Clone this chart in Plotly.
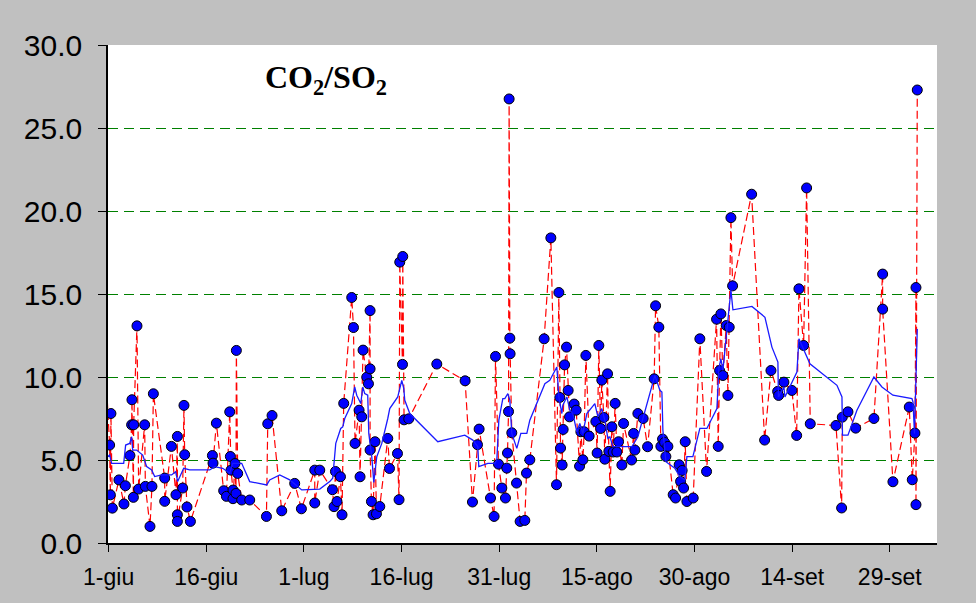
import plotly.graph_objects as go

# Days counted from 1 June (x axis), CO2/SO2 ratio values (y axis)
obs_day = [-0.6, 0.15, 0.26, 0.35, 0.57, 1.58, 2.35, 2.57, 3.27, 3.53, 3.58, 3.80, 3.84, 4.35, 4.61,
           5.53, 5.64, 6.35, 6.65, 6.87, 8.61, 8.61, 9.64, 10.34, 10.56, 10.56, 10.56, 11.37, 11.57,
           11.68, 12.03, 12.56, 15.94, 16.03, 16.55, 17.67, 18.09, 18.60, 18.70, 18.80, 19.10, 19.10,
           19.41, 19.56, 19.62, 19.82, 20.44, 21.67, 24.24, 24.44, 25.10, 26.59, 28.58, 29.61, 31.66,
           31.66, 32.43, 34.38, 34.62, 34.84, 35.08, 35.61, 35.85, 36.11, 37.34, 37.61, 37.85, 38.47,
           38.62, 38.88, 39.08, 39.65, 39.91, 40.16, 40.16, 40.16, 40.37, 40.62, 40.92, 41.14, 41.65,
           42.88, 43.14, 44.37, 44.61, 44.72, 45.14, 45.18, 45.38, 46.10, 50.41, 54.76, 55.89, 56.66,
           56.91, 58.66, 59.21, 59.43, 59.89, 60.40, 60.96, 61.16, 61.27, 61.43, 61.52, 61.63, 61.67,
           61.93, 62.66, 63.21, 63.93, 64.19, 64.70, 66.90, 67.93, 68.80, 69.16, 69.31, 69.42, 69.66,
           69.82, 70.04, 70.34, 70.59, 70.80, 71.51, 71.82, 72.34, 72.54, 72.85, 73.05, 73.31, 73.81,
           74.84, 75.04, 75.30, 75.57, 75.76, 76.07, 76.22, 76.64, 76.84, 77.04, 77.30, 77.50, 77.81,
           78.07, 78.33, 78.84, 79.10, 80.33, 80.64, 80.84, 81.30, 82.11, 82.79, 83.80, 84.02, 84.52,
           84.83, 85.09, 85.40, 85.60, 85.91, 86.72, 87.09, 87.64, 87.86, 88.10, 88.32, 88.57, 88.83,
           89.80, 90.82, 91.85, 93.39, 93.64, 93.85, 94.05, 94.36, 94.87, 95.13, 95.33, 95.59, 95.85,
           98.77, 100.77, 101.74, 102.77, 102.92, 103.73, 104.96, 105.69, 106.04, 106.76, 107.22,
           107.78, 111.73, 112.60, 112.70, 113.57, 114.76, 117.56, 118.90, 118.90, 120.48, 122.99,
           123.45, 123.86, 124.02, 124.02, 124.22]
obs_ratio = [11.5, 5.9, 2.9, 7.8, 2.1, 3.8, 2.35, 3.45, 5.27, 7.12, 8.63, 2.75, 7.12, 13.08, 3.25,
             7.12, 3.41, 1.0, 3.41, 8.99, 3.91, 2.51, 5.82, 2.91, 6.42, 1.70, 1.30, 3.31, 8.29,
             5.32, 2.17, 1.30, 5.27, 4.81, 7.22, 3.15, 2.81, 7.9, 5.21, 4.39, 3.19, 2.67,
             4.79, 2.99, 11.6, 4.19, 2.59, 2.59, 1.60, 7.18, 7.68, 1.94, 3.59, 2.06, 4.39,
             2.41, 4.39, 3.21, 2.19, 4.31, 2.5, 3.99, 1.70, 8.41, 14.79, 12.98, 6.0, 8.0,
             3.99, 7.6, 11.62, 9.99, 9.59, 14.0, 10.49, 5.6, 2.5, 1.7, 6.1, 1.76, 2.2,
             6.3, 4.49, 5.39, 2.61, 16.92, 10.76, 17.26, 7.42, 7.48, 10.78, 9.77, 2.47, 5.92,
             6.86, 2.71, 1.6, 11.24, 4.75, 3.31, 2.71, 4.51, 5.42, 7.92, 26.75, 12.34, 11.4,
             6.64, 3.61, 1.3, 1.36, 4.21, 5.01, 12.3, 18.38, 3.51, 15.09, 8.77, 5.72, 4.7,
             6.84, 10.73, 11.8, 9.19, 7.6, 8.37, 8.0, 4.63, 6.7, 5.01, 6.7, 11.3, 6.44,
             7.32, 5.42, 11.9, 6.9, 9.81, 7.56, 5.05, 10.19, 5.52, 3.11, 7.0, 5.48, 8.41,
             5.48, 6.1, 4.7, 7.2, 5.0, 6.6, 5.6, 7.8, 7.5, 5.8, 9.89, 14.29, 13.0,
             5.82, 6.26, 6.06, 5.21, 5.82, 2.91, 2.71, 4.71, 3.71, 4.37, 3.31, 6.1, 2.5,
             2.71, 12.3, 4.31, 13.48, 5.82, 10.39, 13.8, 10.09, 13.1, 8.89, 13.0, 19.6, 15.49,
             21.01, 6.2, 10.39, 9.13, 8.89, 9.69, 9.19, 6.48, 15.31, 11.9, 21.39,
             7.18, 7.08, 2.11, 7.58, 7.9, 6.92, 7.5, 16.2, 14.09, 3.69, 8.19,
             3.81, 6.62, 15.39, 2.31, 27.29]

avg_day = [-0.61, 0.15, 0.46, 2.31, 2.61, 3.23, 3.53, 3.69, 4.30, 5.23, 5.84, 6.61, 7.07, 8.15,
           9.67, 10.30, 10.60, 11.53, 12.45, 15.52, 16.29, 17.52, 18.60, 19.06, 20.44, 21.67, 24.28,
           24.74, 26.28, 27.82, 29.66, 32.43, 33.96, 34.42, 34.89, 35.65, 35.96, 36.27, 37.34, 37.80,
           38.11, 38.73, 39.04, 39.34, 39.80, 39.96, 40.42, 40.73, 41.19, 41.96, 42.88, 43.18, 44.41,
           45.03, 45.34, 45.49, 46.26, 50.56, 54.71, 55.94, 56.71, 56.86, 58.25, 59.32, 59.63, 59.94,
           60.55, 60.86, 61.32, 61.63, 61.93, 62.70, 63.32, 64.24, 64.70, 67.01, 67.77, 68.85, 69.16,
           69.62, 69.77, 70.39, 70.85, 71.31, 71.92, 72.38, 72.84, 73.46, 74.69, 75.15, 75.76, 76.22,
           76.69, 77.00, 77.46, 80.38, 81.30, 83.60, 83.91, 84.68, 84.99, 85.14, 85.60, 86.98, 87.75,
           88.52, 88.83, 89.75, 90.82, 91.90, 93.44, 93.74, 94.05, 94.36, 94.97, 95.59, 95.90, 98.82,
           100.82, 101.89, 102.81, 102.89, 103.73, 103.89, 105.73, 106.04, 107.73, 111.88, 112.65,
           112.73, 113.57, 114.95, 117.56, 118.79, 120.48, 123.40, 123.56, 123.79, 124.22]
avg_ratio = [5.06, 5.3, 4.8, 4.8, 5.9, 6.0, 6.4, 5.6, 5.6, 5.3, 4.6, 4.4, 4.0, 4.1,
             4.1, 4.3, 3.7, 4.5, 4.4, 4.4, 4.6, 4.5, 4.2, 4.8, 4.8, 3.7, 3.5,
             3.8, 4.1, 3.8, 3.2, 3.25, 3.7, 3.9, 6.0, 6.9, 7.0, 7.5, 8.4, 9.4,
             8.9, 8.4, 9.4, 9.0, 8.9, 6.6, 5.2, 3.65, 5.2, 6.0, 7.5, 8.1, 8.8,
             9.8, 9.3, 8.6, 7.8, 6.1, 6.5, 6.2, 5.8, 4.6, 4.8, 4.8, 5.0, 7.4,
             8.7, 8.7, 9.0, 8.6, 6.6, 5.7, 6.6, 6.6, 7.4, 9.6, 9.8, 10.6, 8.8,
             7.8, 8.3, 8.8, 8.0, 7.8, 6.7, 7.2, 6.6, 7.8, 8.4, 7.6, 8.1, 7.4,
             6.3, 6.4, 5.8, 5.8, 6.4, 9.8, 10.1, 9.2, 9.1, 6.8, 4.9, 4.5, 4.0,
             3.8, 5.2, 5.2, 6.9, 6.9, 8.1, 10.5, 11.1, 10.4, 12.7, 15.25, 14.05, 14.25,
             13.6, 11.8, 10.9, 8.8, 9.4, 8.8, 10.3, 12.3, 10.8, 9.5, 8.8,
             6.5, 6.5, 8.0, 10.0, 9.4, 8.9, 8.7, 8.5, 6.6, 12.9]

tick_days = [0, 15, 30, 45, 60, 75, 90, 105, 120]
tick_labels = ["1-giu", "16-giu", "1-lug", "16-lug", "31-lug", "15-ago", "30-ago", "14-set", "29-set"]
y_ticks = [0, 5, 10, 15, 20, 25, 30]

fig = go.Figure()
# dashed red connecting line (starts just before 1-giu, clipped at the axis)
fig.add_trace(go.Scatter(
    x=obs_day, y=obs_ratio, mode="lines",
    line=dict(color="#FF0000", width=1.2, dash="8px,4px"),
    showlegend=False, hoverinfo="skip",
))
# sample markers (the point before the axis start is not visible)
fig.add_trace(go.Scatter(
    x=obs_day[1:], y=obs_ratio[1:], mode="markers",
    marker=dict(size=10, color="#0000FF", line=dict(color="#000000", width=1)),
    cliponaxis=True, showlegend=False, hoverinfo="x+y",
))
# running average (solid blue)
fig.add_trace(go.Scatter(
    x=avg_day, y=avg_ratio, mode="lines",
    line=dict(color="#1A1AFF", width=1.3),
    showlegend=False, hoverinfo="x+y",
))

fig.add_annotation(
    text="<b>CO<sub>2</sub>/SO<sub>2</sub></b>",
    xref="paper", yref="paper", x=0.263, y=0.93,
    xanchor="center", yanchor="middle", showarrow=False,
    font=dict(family="Liberation Serif, Times New Roman, serif", size=32, color="#000000"),
)

fig.update_layout(
    width=976, height=603,
    margin=dict(l=108, r=39, t=45, b=60, pad=0),
    paper_bgcolor="#C0C0C0", plot_bgcolor="#FFFFFF",
    font=dict(family="Liberation Sans, Arial, sans-serif", color="#000000"),
)
fig.update_xaxes(
    range=[-0.1, 127.25], tickmode="array", tickvals=tick_days, ticktext=tick_labels,
    showgrid=False, zeroline=False, showline=True, linecolor="#000000", linewidth=1.5,
    ticks="outside", ticklen=7, tickcolor="#000000", tickwidth=1, ticklabelstandoff=6,
    tickfont=dict(size=23, family="Liberation Sans, Arial, sans-serif"),
)
fig.update_yaxes(
    range=[0, 30], tickmode="array", tickvals=y_ticks, tickformat=".1f",
    showgrid=True, gridcolor="#008000", gridwidth=1, griddash="10px,6px",
    zeroline=False, showline=True, linecolor="#000000", linewidth=1.5,
    ticks="outside", ticklen=8, tickcolor="#000000", tickwidth=1, ticklabelstandoff=10,
    tickfont=dict(size=30, family="Liberation Sans, Arial, sans-serif"),
)

fig.write_html(
    "out.html",
    config={"displayModeBar": False},
    post_script="document.body.style.margin='0';document.body.style.background='#C0C0C0';",
)
